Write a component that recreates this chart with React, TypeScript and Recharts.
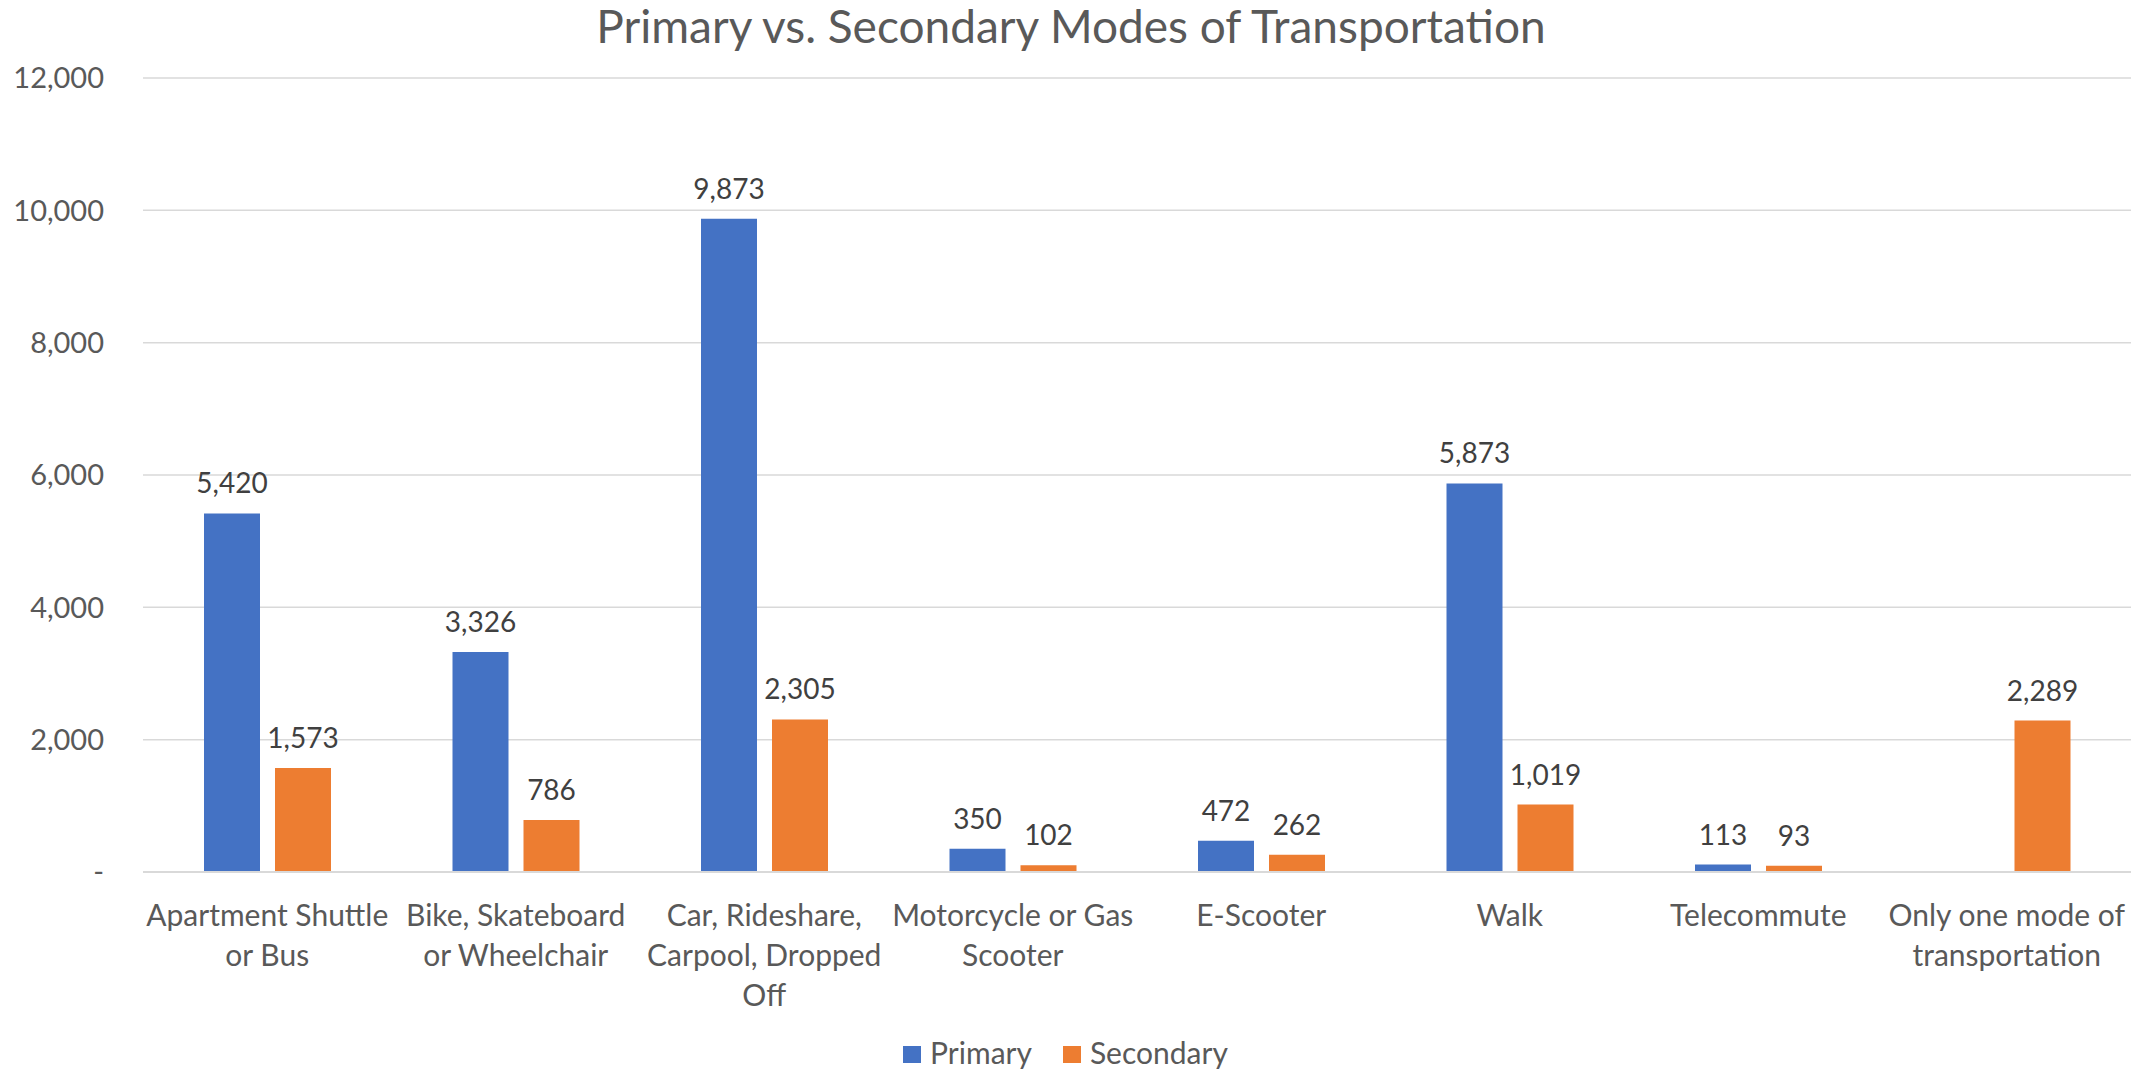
import React from 'react'
import { BarChart, Bar, XAxis, YAxis, CartesianGrid, Legend, LabelList } from 'recharts'

const categories = [
  'Apartment Shuttle\nor Bus',
  'Bike, Skateboard\nor Wheelchair',
  'Car, Rideshare,\nCarpool, Dropped\nOff',
  'Motorcycle or Gas\nScooter',
  'E-Scooter',
  'Walk',
  'Telecommute',
  'Only one mode of\ntransportation',
]
const primary: (number | null)[] = [5420, 3326, 9873, 350, 472, 5873, 113, null]
const secondary: (number | null)[] = [1573, 786, 2305, 102, 262, 1019, 93, 2289]
const yTicks = [0, 2000, 4000, 6000, 8000, 10000, 12000]

const data = categories.map((name, i) => ({
  name,
  Primary: primary[i],
  Secondary: secondary[i],
}))

const FONT = 'Lato, "Open Sans", sans-serif'
const BLUE = '#4472C4'
const ORANGE = '#ED7D31'

const fmt = (v: number) => (v === 0 ? '-' : v.toLocaleString('en-US'))

const CategoryTick = ({ x, y, payload }: any) => {
  const lines = String(payload.value).split('\n')
  return (
    <text x={x} y={y} textAnchor="middle" fill="#595959" fontSize={30} fontFamily={FONT}>
      {lines.map((line, i) => (
        <tspan key={i} x={x} dy={i === 0 ? 46 : 40}>
          {line}
        </tspan>
      ))}
    </text>
  )
}

const LegendContent = () => (
  <div
    style={{
      height: 40,
      paddingTop: 3,
      boxSizing: 'border-box',
      display: 'flex',
      justifyContent: 'center',
      alignItems: 'center',
      fontFamily: FONT,
      fontSize: 30,
      lineHeight: '36px',
      color: '#595959',
    }}
  >
    {[
      { name: 'Primary', color: BLUE },
      { name: 'Secondary', color: ORANGE },
    ].map((item, i) => (
      <div key={item.name} style={{ display: 'flex', alignItems: 'center', marginLeft: i ? 31 : 0 }}>
        <div style={{ width: 18, height: 17, background: item.color, marginRight: 9, marginTop: 6 }} />
        <span>{item.name}</span>
      </div>
    ))}
  </div>
)

export default function App() {
  return (
    <div
      style={{
        position: 'absolute',
        left: 0,
        top: 0,
        width: 2142,
        height: 1070,
        background: '#fff',
        fontFamily: FONT,
      }}
    >
      <div
        style={{
          position: 'absolute',
          left: 0,
          top: -2,
          width: 2142,
          textAlign: 'center',
          fontSize: 46,
          color: '#595959',
          lineHeight: '55px',
        }}
      >
        Primary vs. Secondary Modes of Transportation
      </div>
      <BarChart
        width={2142}
        height={1070}
        data={data}
        margin={{ top: 78, right: 11, left: 0, bottom: 0 }}
        barGap={15}
      >
        <CartesianGrid vertical={false} stroke="#d9d9d9" strokeWidth={1.5} />
        <XAxis
          dataKey="name"
          height={158}
          interval={0}
          tick={<CategoryTick />}
          tickLine={false}
          axisLine={{ stroke: '#d9d9d9', strokeWidth: 2 }}
        />
        <YAxis
          width={143}
          domain={[0, 12000]}
          ticks={yTicks}
          tickFormatter={fmt}
          axisLine={false}
          tickLine={false}
          tickMargin={33}
          tick={{ fill: '#595959', fontSize: 29, fontFamily: FONT }}
        />
        <Legend verticalAlign="bottom" content={<LegendContent />} />
        <Bar dataKey="Primary" fill={BLUE} barSize={56} isAnimationActive={false}>
          <LabelList
            dataKey="Primary"
            position="top"
            offset={20}
            formatter={(v: any) => (v == null ? '' : fmt(v))}
            fill="#404040"
            fontSize={28}
            fontFamily={FONT}
          />
        </Bar>
        <Bar dataKey="Secondary" fill={ORANGE} barSize={56} isAnimationActive={false}>
          <LabelList
            dataKey="Secondary"
            position="top"
            offset={20}
            formatter={(v: any) => (v == null ? '' : fmt(v))}
            fill="#404040"
            fontSize={28}
            fontFamily={FONT}
          />
        </Bar>
      </BarChart>
    </div>
  )
}
